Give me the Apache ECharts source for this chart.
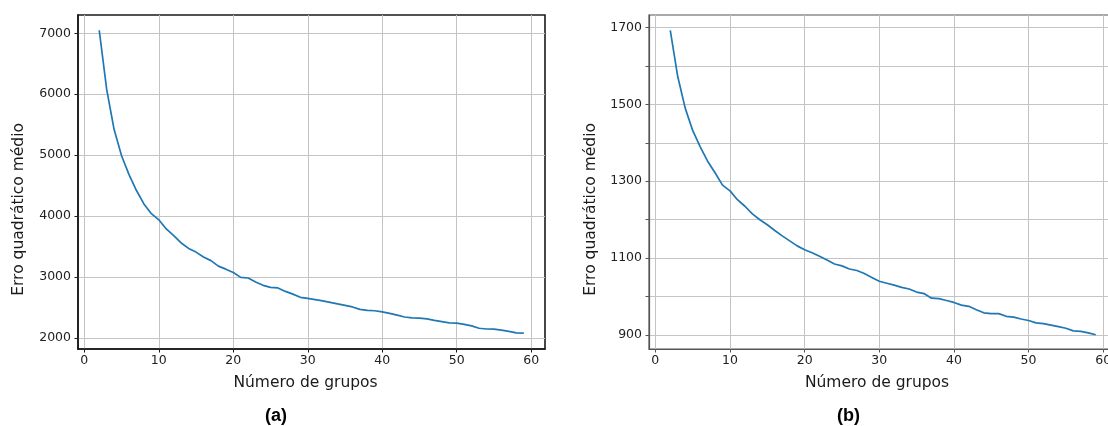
<!DOCTYPE html>
<html>
<head>
<meta charset="utf-8">
<script src="https://cdn.jsdelivr.net/npm/echarts@6/dist/echarts.min.js"></script>
<style>
  html, body { margin: 0; padding: 0; background: #fff; overflow: hidden; }
  #chart { width: 1124px; height: 426px; }
</style>
</head>
<body>
<div id="chart"></div>
<script>
// número de grupos (k)
const grupos = [];
for (let k = 2; k <= 59; k++) grupos.push(k);

// (a) erro quadrático médio
const erroA = [
  7050, 6080, 5420, 4990, 4680, 4420, 4200, 4040, 3940, 3790,
  3680, 3560, 3470, 3410, 3330, 3270, 3180, 3130, 3075, 2995,
  2985, 2920, 2865, 2830, 2822, 2765, 2720, 2668, 2650, 2630,
  2610, 2585, 2560, 2535, 2510, 2470, 2455, 2448, 2430, 2405,
  2375, 2345, 2330, 2325, 2315, 2290, 2270, 2250, 2245, 2225,
  2200, 2160, 2148, 2145, 2130, 2110, 2085, 2082
];

// (b) erro quadrático médio
const erroB = [
  1692, 1572, 1490, 1432, 1390, 1352, 1322, 1290, 1275, 1252,
  1235, 1215, 1200, 1187, 1172, 1158, 1145, 1132, 1122, 1114,
  1105, 1095, 1085, 1080, 1072, 1068, 1060, 1050, 1040, 1035,
  1030, 1024, 1020, 1012, 1008, 996, 995, 990, 985, 978,
  975, 966, 958, 956, 956, 949, 947, 942, 938, 932,
  930, 926, 922, 918, 911, 910, 906, 901
];

const xTicks = [0, 10, 20, 30, 40, 50, 60];
const yTicksA = [2000, 3000, 4000, 5000, 6000, 7000];
const yLabelsB = [900, 1100, 1300, 1500, 1700];
const yTicksB = [900, 1000, 1100, 1200, 1300, 1400, 1500, 1600, 1700];

const FONT = 'DejaVu Sans';
const dataA = grupos.map((k, i) => [k, erroA[i]]);
const dataB = grupos.map((k, i) => [k, erroB[i]]);
const plain = v => String(v);

function xAxis(idx, lineColor, lineWidth) {
  return {
    type: 'value', gridIndex: idx, min: -0.85, max: 61.85,
    name: 'Número de grupos', nameLocation: 'middle', nameGap: 26,
    nameTextStyle: { fontFamily: FONT, fontSize: 15.5, color: '#1a1a1a', padding: [0, 12, 0, 0] },
    axisLine: { show: true, onZero: false, lineStyle: { color: lineColor, width: lineWidth } },
    axisTick: { show: true, inside: false, length: 3.5, customValues: xTicks,
      lineStyle: { color: lineColor, width: 1 } },
    axisLabel: { customValues: xTicks, margin: 5, fontFamily: FONT, fontSize: 12.5, color: '#222', formatter: plain },
    splitLine: { show: true, lineStyle: { color: '#c4c4c4', width: 1 } }
  };
}

function yAxis(idx, min, max, ticks, labels, lineColor, lineWidth) {
  return {
    type: 'value', gridIndex: idx, min: min, max: max,
    axisLine: { show: true, onZero: false, lineStyle: { color: lineColor, width: lineWidth } },
    axisTick: { show: true, length: 3.5, customValues: ticks, lineStyle: { color: lineColor, width: 1 } },
    axisLabel: { customValues: labels, margin: 7, fontFamily: FONT, fontSize: 12.5, color: '#222', formatter: plain },
    splitLine: { show: true, lineStyle: { color: '#c4c4c4', width: 1 } }
  };
}

const chart = echarts.init(document.getElementById('chart'), null, { renderer: 'canvas' });
chart.setOption({
  animation: false,
  backgroundColor: '#fff',
  grid: [
    { left: 78, top: 15, width: 467, height: 334, show: true, borderColor: '#1a1a1a', borderWidth: 1.6, backgroundColor: 'transparent' },
    { left: 649, top: 15, width: 468, height: 334, show: true, borderColor: '#555', borderWidth: 1.2, backgroundColor: 'transparent' }
  ],
  xAxis: [xAxis(0, '#1a1a1a', 1.6), xAxis(1, '#555', 1.2)],
  yAxis: [
    yAxis(0, 1820, 7300, yTicksA, yTicksA, '#1a1a1a', 1.6),
    yAxis(1, 864, 1732, yTicksB, yLabelsB, '#555', 1.2)
  ],
  graphic: [
    { type: 'text', left: 11, top: 123, rotation: Math.PI / 2,
      style: { text: 'Erro quadrático médio', font: '15.5px "DejaVu Sans"', fill: '#1a1a1a' } },
    { type: 'text', left: 583, top: 123, rotation: Math.PI / 2,
      style: { text: 'Erro quadrático médio', font: '15.5px "DejaVu Sans"', fill: '#1a1a1a' } },
    { type: 'text', left: 265, top: 407,
      style: { text: '(a)', font: 'bold 18px "Liberation Sans"', fill: '#000' } },
    { type: 'text', left: 837, top: 407,
      style: { text: '(b)', font: 'bold 18px "Liberation Sans"', fill: '#000' } }
  ],
  series: [
    { type: 'line', xAxisIndex: 0, yAxisIndex: 0, data: dataA, showSymbol: false,
      lineStyle: { color: '#1f77b4', width: 1.7 }, itemStyle: { color: '#1f77b4' } },
    { type: 'line', xAxisIndex: 1, yAxisIndex: 1, data: dataB, showSymbol: false,
      lineStyle: { color: '#1f77b4', width: 1.7 }, itemStyle: { color: '#1f77b4' } }
  ]
});
</script>
</body>
</html>
